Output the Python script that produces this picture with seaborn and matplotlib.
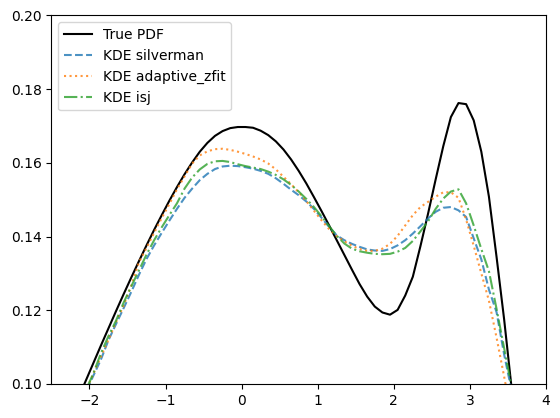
import matplotlib
matplotlib.use("Agg")
import matplotlib.pyplot as plt
import seaborn as sns

X_GRID = [-2.15, -2.05, -1.95, -1.85, -1.75, -1.65, -1.55, -1.45, -1.35, -1.25,
          -1.15, -1.05, -0.95, -0.85, -0.75, -0.65, -0.55, -0.45, -0.35, -0.25,
          -0.15, -0.05, 0.05, 0.15, 0.25, 0.35, 0.45, 0.55, 0.65, 0.75,
          0.85, 0.95, 1.05, 1.15, 1.25, 1.35, 1.45, 1.55, 1.65, 1.75,
          1.85, 1.95, 2.05, 2.15, 2.25, 2.35, 2.45, 2.55, 2.65, 2.75,
          2.85, 2.95, 3.05, 3.15, 3.25, 3.35, 3.45, 3.55, 3.65]

TRUE_PDF = [0.0960, 0.1008, 0.1056, 0.1104, 0.1151, 0.1198, 0.1244, 0.1289, 0.1333, 0.1376,
            0.1418, 0.1458, 0.1497, 0.1534, 0.1569, 0.1601, 0.1630, 0.1654, 0.1673, 0.1686,
            0.1694, 0.1697, 0.1697, 0.1695, 0.1687, 0.1675, 0.1658, 0.1636, 0.1609, 0.1578,
            0.1544, 0.1507, 0.1469, 0.1430, 0.1390, 0.1350, 0.1310, 0.1271, 0.1237, 0.1210,
            0.1194, 0.1188, 0.1201, 0.1240, 0.1291, 0.1374, 0.1462, 0.1555, 0.1645, 0.1724,
            0.1762, 0.1759, 0.1715, 0.1630, 0.1508, 0.1345, 0.1175, 0.0985, 0.0800]

KDE_SILVERMAN = [0.0930, 0.0977, 0.1022, 0.1066, 0.1119, 0.1163, 0.1206, 0.1250, 0.1296, 0.1339,
                 0.1376, 0.1410, 0.1443, 0.1475, 0.1505, 0.1530, 0.1553, 0.1570, 0.1583, 0.1590,
                 0.1592, 0.1591, 0.1588, 0.1584, 0.1578, 0.1570, 0.1558, 0.1543, 0.1527, 0.1512,
                 0.1495, 0.1475, 0.1451, 0.1426, 0.1403, 0.1390, 0.1380, 0.1372, 0.1365, 0.1362,
                 0.1361, 0.1366, 0.1376, 0.1390, 0.1408, 0.1428, 0.1449, 0.1467, 0.1478, 0.1480,
                 0.1471, 0.1453, 0.1395, 0.1338, 0.1256, 0.1195, 0.1080, 0.0980, 0.0880]

KDE_ADAPTIVE = [0.0935, 0.0980, 0.1027, 0.1074, 0.1120, 0.1168, 0.1213, 0.1267, 0.1330, 0.1369,
                0.1410, 0.1450, 0.1488, 0.1528, 0.1563, 0.1598, 0.1620, 0.1631, 0.1637, 0.1638,
                0.1635, 0.1630, 0.1624, 0.1617, 0.1609, 0.1598, 0.1582, 0.1562, 0.1542, 0.1520,
                0.1496, 0.1470, 0.1444, 0.1420, 0.1401, 0.1387, 0.1375, 0.1366, 0.1361, 0.1361,
                0.1367, 0.1380, 0.1402, 0.1430, 0.1458, 0.1480, 0.1494, 0.1508, 0.1520, 0.1520,
                0.1505, 0.1446, 0.1375, 0.1300, 0.1226, 0.1126, 0.1020, 0.0910, 0.0800]

KDE_ISJ = [0.0935, 0.0982, 0.1028, 0.1083, 0.1130, 0.1172, 0.1221, 0.1265, 0.1308, 0.1351,
           0.1390, 0.1425, 0.1458, 0.1490, 0.1530, 0.1560, 0.1582, 0.1597, 0.1604, 0.1605,
           0.1602, 0.1596, 0.1591, 0.1587, 0.1583, 0.1576, 0.1567, 0.1555, 0.1540, 0.1522,
           0.1502, 0.1480, 0.1455, 0.1428, 0.1402, 0.1381, 0.1367, 0.1360, 0.1356, 0.1353,
           0.1352, 0.1353, 0.1359, 0.1369, 0.1388, 0.1414, 0.1441, 0.1475, 0.1503, 0.1522,
           0.1528, 0.1490, 0.1430, 0.1366, 0.1306, 0.1204, 0.1097, 0.0990, 0.0880]

fig = plt.figure(figsize=(5.6, 4.18), dpi=100)
ax = fig.add_axes([51.4 / 560, 1 - 384 / 418, (546 - 51.4) / 560, (384 - 15.3) / 418])

sns.lineplot(x=X_GRID, y=TRUE_PDF, color="black", label="True PDF", ax=ax)
sns.lineplot(x=X_GRID, y=KDE_SILVERMAN, color="C0", linestyle="--", alpha=0.8,
             label="KDE silverman", ax=ax)
sns.lineplot(x=X_GRID, y=KDE_ADAPTIVE, color="C1", linestyle=":", alpha=0.8,
             label="KDE adaptive_zfit", ax=ax)
sns.lineplot(x=X_GRID, y=KDE_ISJ, color="C2", linestyle="-.", alpha=0.8,
             label="KDE isj", ax=ax)

ax.set_xlim(-2.5, 4)
ax.set_ylim(0.1, 0.2)
ax.legend(loc="upper left")

fig.savefig("out.png", dpi=100)
